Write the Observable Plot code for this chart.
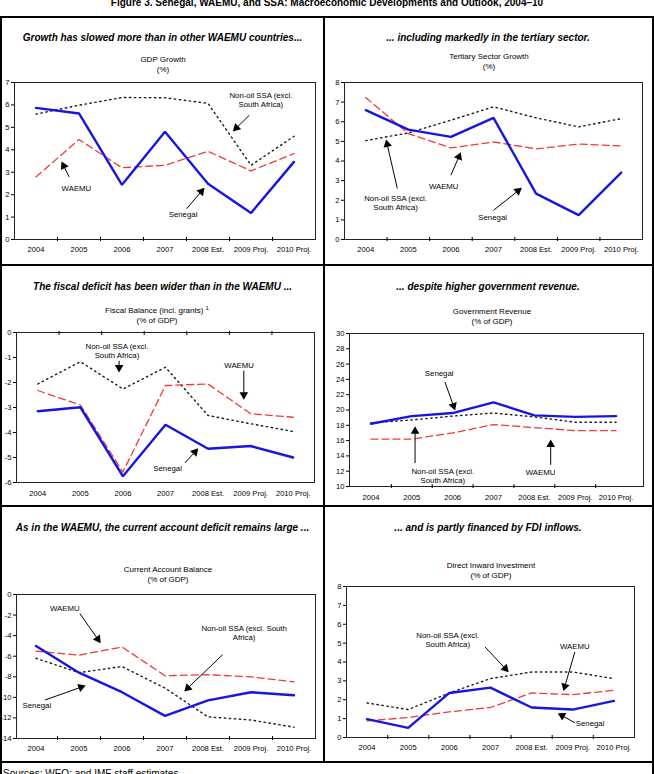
<!DOCTYPE html>
<html>
<head>
<meta charset="utf-8">
<script src="https://cdn.jsdelivr.net/npm/d3@7"></script>
<script src="https://cdn.jsdelivr.net/npm/@observablehq/plot@0.6"></script>
<style>
  body { margin: 0; background: #fff; font-family: "Liberation Sans", Arial, sans-serif; }
  #fig { position: relative; width: 654px; height: 774px; overflow: hidden; background: #fff; }
  .abs { position: absolute; }
  .ftitle { left: 0; width: 654px; text-align: center; font-weight: bold; font-size: 10px; top: -3px; color: #000; }
  .ptitle { font-weight: bold; font-style: italic; font-size: 10px; text-align: center; white-space: nowrap; color: #000; }
  .ctitle { font-size: 8px; text-align: center; line-height: 10px; white-space: nowrap; color: #000; }
  .ctitle sup { font-size: 6px; vertical-align: 3px; line-height: 0; }
  .hl { background: #000; height: 2px; }
  .vl { background: #000; width: 2px; }
  .src { font-size: 10px; left: 3px; top: 768px; color: #000; }
</style>
</head>
<body>
<div id="fig"></div>
<script>
// Category axis
const years = ["2004", "2005", "2006", "2007", "2008 Est.", "2009 Proj.", "2010 Proj."];

// GDP growth (%)
const gdpSenegal = [5.87, 5.62, 2.44, 4.80, 2.49, 1.18, 3.46];
const gdpWaemu   = [2.79, 4.46, 3.20, 3.31, 3.93, 3.06, 3.83];
const gdpSsa     = [5.59, 5.99, 6.33, 6.32, 6.07, 3.31, 4.60];
const gdpTicks   = [0, 1, 2, 3, 4, 5, 6, 7];

// Tertiary sector growth (%)
const terSenegal = [6.59, 5.60, 5.23, 6.20, 2.34, 1.24, 3.41];
const terWaemu   = [7.23, 5.40, 4.67, 4.97, 4.62, 4.86, 4.77];
const terSsa     = [5.04, 5.43, 6.08, 6.76, 6.20, 5.74, 6.16];
const terTicks   = [0, 1, 2, 3, 4, 5, 6, 7, 8];

// Fiscal balance incl. grants (% of GDP)
const fisSenegal = [-3.15, -2.99, -5.75, -3.69, -4.65, -4.54, -5.00];
const fisWaemu   = [-2.32, -2.90, -5.58, -2.12, -2.06, -3.25, -3.39];
const fisSsa     = [-2.06, -1.17, -2.26, -1.39, -3.32, -3.65, -3.96];
const fisTicks   = [-6, -5, -4, -3, -2, -1, 0];

// Government revenue (% of GDP)
const revSenegal = [18.2, 19.2, 19.6, 21.0, 19.3, 19.1, 19.2];
const revWaemu   = [16.2, 16.2, 17.0, 18.1, 17.7, 17.3, 17.3];
const revSsa     = [18.3, 18.7, 19.2, 19.6, 19.1, 18.4, 18.4];
const revTicks   = [10, 12, 14, 16, 18, 20, 22, 24, 26, 28, 30];

// Current account balance (% of GDP)
const caSenegal = [-5.0, -7.6, -9.5, -11.8, -10.3, -9.5, -9.8];
const caWaemu   = [-5.5, -5.9, -5.1, -7.9, -7.8, -8.0, -8.5];
const caSsa     = [-6.2, -7.6, -7.0, -9.1, -11.9, -12.2, -12.9];
const caTicks   = [-14, -12, -10, -8, -6, -4, -2, 0];

// Direct inward investment (% of GDP)
const fdiSenegal = [0.97, 0.51, 2.36, 2.64, 1.59, 1.48, 1.94];
const fdiWaemu   = [0.88, 1.06, 1.36, 1.59, 2.36, 2.27, 2.50];
const fdiSsa     = [1.83, 1.48, 2.36, 3.12, 3.47, 3.47, 3.12];
const fdiTicks   = [0, 1, 2, 3, 4, 5, 6, 7, 8];

// Series labels and pointer arrows (x = category index, y = value)
const gdpLabels = [
  {x: 5.23, y: 6.24, text: "Non-oil SSA (excl.\nSouth Africa)"},
  {x: 0.94, y: 2.30, text: "WAEMU"},
  {x: 3.42, y: 1.12, text: "Senegal"}
];
const gdpArrows = [
  {x1: 4.96, y1: 5.54, x2: 4.62, y2: 4.90},
  {x1: 0.77, y1: 2.79, x2: 0.62, y2: 3.38},
  {x1: 3.50, y1: 1.37, x2: 3.88, y2: 2.22}
];
const terLabels = [
  {x: 0.70, y: 1.87, text: "Non-oil SSA (excl.\nSouth Africa)"},
  {x: 1.83, y: 2.72, text: "WAEMU"},
  {x: 2.98, y: 1.15, text: "Senegal"}
];
const terArrows = [
  {x1: 0.74, y1: 2.60, x2: 0.49, y2: 4.97},
  {x1: 2.00, y1: 3.28, x2: 2.21, y2: 4.33},
  {x1: 3.00, y1: 1.49, x2: 3.62, y2: 2.55}
];
const fisLabels = [
  {x: 1.86, y: -0.72, text: "Non-oil SSA (excl.\nSouth Africa)"},
  {x: 4.73, y: -1.30, text: "WAEMU"},
  {x: 3.05, y: -5.42, text: "Senegal"}
];
const fisArrows = [
  {x1: 1.91, y1: -1.13, x2: 1.91, y2: -1.50},
  {x1: 4.84, y1: -1.53, x2: 4.84, y2: -2.59},
  {x1: 3.46, y1: -5.21, x2: 3.73, y2: -4.71}
];
const revLabels = [
  {x: 1.67, y: 24.85, text: "Senegal"},
  {x: 1.76, y: 11.40, text: "Non-oil SSA (excl.\nSouth Africa)"},
  {x: 4.15, y: 11.88, text: "WAEMU"}
];
const revArrows = [
  {x1: 1.81, y1: 23.67, x2: 2.04, y2: 20.26},
  {x1: 1.08, y1: 13.06, x2: 1.08, y2: 17.55},
  {x1: 4.40, y1: 12.84, x2: 4.40, y2: 15.81}
];
const caLabels = [
  {x: 0.67, y: -1.27, text: "WAEMU"},
  {x: 4.84, y: -3.68, text: "Non-oil SSA (excl. South\nAfrica)"},
  {x: 0.02, y: -10.72, text: "Senegal"}
];
const caArrows = [
  {x1: 1.02, y1: -1.86, x2: 1.47, y2: -4.53},
  {x1: 4.34, y1: -5.86, x2: 3.49, y2: -9.25},
  {x1: 0.21, y1: -10.26, x2: 1.10, y2: -8.93}
];
const fdiLabels = [
  {x: 1.96, y: 5.18, text: "Non-oil SSA (excl.\nSouth Africa)"},
  {x: 5.05, y: 4.85, text: "WAEMU"},
  {x: 5.42, y: 0.78, text: "Senegal"}
];
const fdiArrows = [
  {x1: 2.87, y1: 4.79, x2: 3.40, y2: 3.56},
  {x1: 5.05, y1: 4.53, x2: 4.79, y2: 2.59},
  {x1: 5.05, y1: 0.78, x2: 4.69, y2: 1.22}
];

const BLUE = "#1616e0";
const RED = "#f03a3a";
const DOT = "#1a1a1a";
const FONT = "'Liberation Sans', Arial, sans-serif";

const fig = document.getElementById("fig");

function addDiv(cls, style, html) {
  const d = document.createElement("div");
  d.className = "abs " + cls;
  Object.assign(d.style, style);
  d.innerHTML = html;
  fig.appendChild(d);
  return d;
}

// One line chart: frame box in page pixels, panel span for the SVG
function chart(o) {
  const {panelLeft, panelWidth, frame, series, yDomain, yTicks, labels, arrows, tickAnchor, labelPad} = o;
  const top = frame.top - 10;
  const ml = frame.left - panelLeft;
  const mr = panelLeft + panelWidth - frame.right;
  const mt = frame.top - top;
  const mb = 20;
  const width = panelWidth;
  const height = frame.bottom - frame.top + mt + mb;
  const bandEdges = o.xEdges || [frame.left, frame.right];
  const boundaries = [0.5, 1.5, 2.5, 3.5, 4.5, 5.5];

  // pixels per data unit, used to orient the filled arrowheads
  const kx = (bandEdges[1] - bandEdges[0]) / 7;
  const ky = (frame.bottom - frame.top) / (yDomain[1] - yDomain[0]);
  const headR = 3.2;
  const heads = arrows.map(a => {
    const px = (a.x2 - a.x1) * kx, py = -(a.y2 - a.y1) * ky;
    const len = Math.hypot(px, py);
    const ux = px / len, uy = py / len;
    const back = headR * 0.75;
    return {
      x: a.x2 - ux * back / kx,
      y: a.y2 + uy * back / ky,
      sx: a.x2 - ux * back * 1.6 / kx,
      sy: a.y2 + uy * back * 1.6 / ky,
      x1: a.x1, y1: a.y1,
      angle: Math.atan2(ux, -uy) * 180 / Math.PI
    };
  });

  const svg = Plot.plot({
    width, height,
    marginLeft: ml, marginRight: mr, marginTop: mt, marginBottom: mb,
    style: {fontFamily: FONT, fontSize: "8px", color: "#000", background: "transparent", overflow: "visible"},
    x: {type: "linear", domain: [-0.5, 6.5], range: [bandEdges[0] - panelLeft, bandEdges[1] - panelLeft]},
    y: {domain: yDomain},
    marks: [
      Plot.frame({stroke: "#222", strokeWidth: 1}),
      Plot.axisY({ticks: yTicks, tickSize: 3, tickPadding: 2, tickFormat: d => String(d), label: null, fontSize: 7.6}),
      Plot.axisX({ticks: [0, 1, 2, 3, 4, 5, 6], anchor: "bottom", tickSize: 0, tickPadding: labelPad || 7,
                  tickFormat: i => years[i], label: null, fontSize: 7.6}),
      Plot.axisX({ticks: boundaries, anchor: tickAnchor || "bottom", tickSize: 4,
                  dy: (tickAnchor === "top" ? 2 : -2), tickFormat: () => "", label: null}),
      Plot.lineY(series.ssa, {stroke: DOT, strokeWidth: 1.4, strokeDasharray: "1.4,3.6", strokeLinecap: "round"}),
      Plot.lineY(series.waemu, {stroke: RED, strokeWidth: 1.3, strokeDasharray: "7,4"}),
      Plot.lineY(series.senegal, {stroke: BLUE, strokeWidth: 2.4, strokeLinejoin: "miter"}),
      Plot.link(heads, {x1: "x1", y1: "y1", x2: "sx", y2: "sy", stroke: "#000", strokeWidth: 1}),
      Plot.dot(heads, {x: "x", y: "y", symbol: "triangle", r: headR, rotate: "angle", fill: "#000", stroke: "none"}),
      Plot.text(labels, {x: "x", y: "y", text: "text", fontSize: 7.8, lineHeight: 1.2, fill: "#000"})
    ]
  });
  svg.style.position = "absolute";
  svg.style.left = panelLeft + "px";
  svg.style.top = top + "px";
  fig.appendChild(svg);
}

// Figure heading
addDiv("ftitle", {}, "Figure 3. Senegal, WAEMU, and SSA: Macroeconomic Developments and Outlook, 2004\u201310");

const LEFT = 2, LW = 321, RIGHT = 325, RW = 326;

// Panel headlines
addDiv("ptitle", {left: LEFT + "px", width: LW + "px", top: "32px"}, "Growth has slowed more than in other WAEMU countries...");
addDiv("ptitle", {left: RIGHT + "px", width: RW + "px", top: "32px"}, "... including markedly in the tertiary sector.");
addDiv("ptitle", {left: LEFT + "px", width: LW + "px", top: "281px"}, "The fiscal deficit has been wider than in the WAEMU ...");
addDiv("ptitle", {left: RIGHT + "px", width: RW + "px", top: "281px"}, "... despite higher government revenue.");
addDiv("ptitle", {left: LEFT + "px", width: LW + "px", top: "522px"}, "As in the WAEMU, the current account deficit remains large ...");
addDiv("ptitle", {left: RIGHT + "px", width: RW + "px", top: "522px"}, "... and is partly financed by FDI inflows.");

// Chart titles
addDiv("ctitle", {left: "63px", width: "200px", top: "55px"}, "GDP Growth<br>(%)");
addDiv("ctitle", {left: "389px", width: "200px", top: "52px"}, "Tertiary Sector Growth<br>(%)");
addDiv("ctitle", {left: "57px", width: "200px", top: "306px"}, "Fiscal Balance (incl. grants) <sup>1</sup><br>(% of GDP)");
addDiv("ctitle", {left: "392px", width: "200px", top: "307px"}, "Government Revenue<br>(% of GDP)");
addDiv("ctitle", {left: "68px", width: "200px", top: "565px"}, "Current Account Balance<br>(% of GDP)");
addDiv("ctitle", {left: "391px", width: "200px", top: "561px"}, "Direct Inward Investment<br>(% of GDP)");

chart({panelLeft: LEFT, panelWidth: LW, frame: {left: 14, right: 315, top: 82, bottom: 239},
  series: {senegal: gdpSenegal, waemu: gdpWaemu, ssa: gdpSsa},
  yDomain: [0, 7], yTicks: gdpTicks, labels: gdpLabels, arrows: gdpArrows});

chart({panelLeft: RIGHT, panelWidth: RW, frame: {left: 344, right: 642, top: 82, bottom: 239},
  series: {senegal: terSenegal, waemu: terWaemu, ssa: terSsa},
  yDomain: [0, 8], yTicks: terTicks, labels: terLabels, arrows: terArrows});

chart({panelLeft: LEFT, panelWidth: LW, frame: {left: 16, right: 314, top: 332, bottom: 482},
  series: {senegal: fisSenegal, waemu: fisWaemu, ssa: fisSsa},
  yDomain: [-6, 0], yTicks: fisTicks, labels: fisLabels, arrows: fisArrows, tickAnchor: "top", labelPad: 8});

chart({panelLeft: RIGHT, panelWidth: RW, frame: {left: 349, right: 643, top: 333, bottom: 486}, xEdges: [350, 636],
  series: {senegal: revSenegal, waemu: revWaemu, ssa: revSsa},
  yDomain: [10, 30], yTicks: revTicks, labels: revLabels, arrows: revArrows, labelPad: 8});

chart({panelLeft: LEFT, panelWidth: LW, frame: {left: 16, right: 315, top: 594, bottom: 738}, xEdges: [14, 315],
  series: {senegal: caSenegal, waemu: caWaemu, ssa: caSsa},
  yDomain: [-14, 0], yTicks: caTicks, labels: caLabels, arrows: caArrows});

chart({panelLeft: RIGHT, panelWidth: RW, frame: {left: 346, right: 634, top: 586, bottom: 737},
  series: {senegal: fdiSenegal, waemu: fdiWaemu, ssa: fdiSsa},
  yDomain: [0, 8], yTicks: fdiTicks, labels: fdiLabels, arrows: fdiArrows});

// Panel rules and outer box
addDiv("hl", {left: "0px", width: "654px", top: "16px"}, "");
addDiv("hl", {left: "0px", width: "654px", top: "264px"}, "");
addDiv("hl", {left: "0px", width: "654px", top: "505px"}, "");
addDiv("hl", {left: "0px", width: "654px", top: "761px"}, "");
addDiv("vl", {left: "0px", height: "774px", top: "16px"}, "");
addDiv("vl", {left: "652px", height: "774px", top: "16px"}, "");
addDiv("vl", {left: "323px", height: "746px", top: "16px"}, "");

addDiv("src", {}, "Sources: WEO; and IMF staff estimates.");
</script>
</body>
</html>
